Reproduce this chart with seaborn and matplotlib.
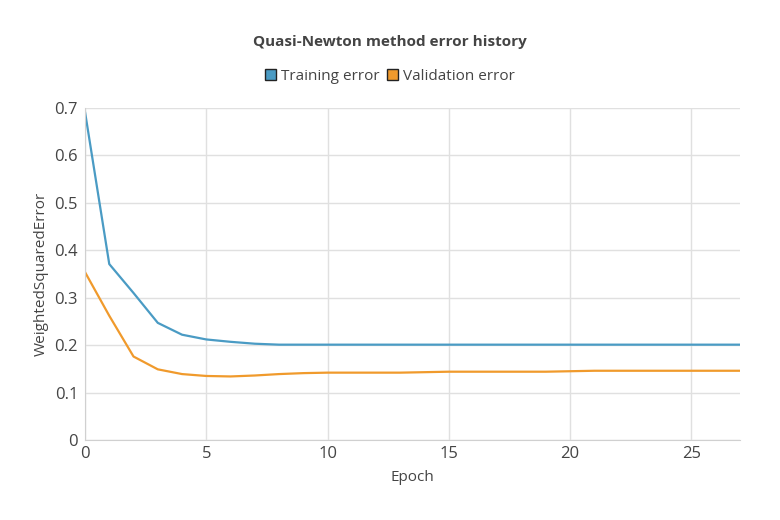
import matplotlib
matplotlib.use('Agg')
import matplotlib.pyplot as plt
import pandas as pd
import seaborn as sb
from matplotlib.patches import Patch

# error history, one value per epoch
epochs = list(range(28))
training_error = [0.692, 0.371, 0.310, 0.247, 0.222, 0.212, 0.207, 0.203, 0.201,
                  0.201, 0.201, 0.201, 0.201, 0.201, 0.201, 0.201, 0.201, 0.201,
                  0.201, 0.201, 0.201, 0.201, 0.201, 0.201, 0.201, 0.201, 0.201, 0.201]
validation_error = [0.354, 0.262, 0.176, 0.149, 0.139, 0.135, 0.134, 0.136, 0.139,
                    0.141, 0.142, 0.142, 0.142, 0.142, 0.143, 0.144, 0.144, 0.144,
                    0.144, 0.144, 0.145, 0.146, 0.146, 0.146, 0.146, 0.146, 0.146, 0.146]
series_names = ['Training error', 'Validation error']
series_colors = ['#4a9bc4', '#f09a2c']

data = pd.DataFrame({
    'Epoch': epochs * 2,
    'WeightedSquaredError': training_error + validation_error,
    'series': [series_names[0]] * len(epochs) + [series_names[1]] * len(epochs),
})

sb.set_style('white')
plt.rcParams['font.family'] = ['Open Sans', 'DejaVu Sans']
text_col = '#444444'
grid_col = '#e0e0e0'

fig = plt.figure(figsize=(7.8, 5.2), dpi=100)
ax = fig.add_subplot(1, 1, 1)
fig.subplots_adjust(left=85/780, right=740/780, top=1-108/520, bottom=1-440/520)

sb.lineplot(data=data, x='Epoch', y='WeightedSquaredError', hue='series',
            palette=dict(zip(series_names, series_colors)), linewidth=1.6,
            ax=ax, legend=False)

ax.set_xlim(0, 27)
ax.set_ylim(0, 0.7)
ax.set_xticks([0, 5, 10, 15, 20, 25])
ax.set_yticks([0, 0.1, 0.2, 0.3, 0.4, 0.5, 0.6, 0.7])
ax.set_yticklabels(['0', '0.1', '0.2', '0.3', '0.4', '0.5', '0.6', '0.7'])
ax.grid(True, color=grid_col, linewidth=1)
ax.set_axisbelow(True)
for s in ['top', 'right']:
    ax.spines[s].set_visible(False)
for s in ['left', 'bottom']:
    ax.spines[s].set_color('#d0d0d0')
ax.tick_params(axis='y', length=4, color='#d0d0d0', pad=1, labelsize=12, labelcolor=text_col)
ax.tick_params(axis='x', length=0, pad=4, labelsize=12, labelcolor=text_col)
ax.set_xlabel('Epoch', fontsize=11, color=text_col, labelpad=6)
ax.set_ylabel('WeightedSquaredError', fontsize=11, color=text_col, labelpad=4)

fig.suptitle('Quasi-Newton method error history', y=1-42/520, va='center',
             fontsize=11, fontweight='bold', color=text_col)
handles = [Patch(facecolor=c, edgecolor='#222222', linewidth=1) for c in series_colors]
fig.legend(handles, series_names, loc='center', bbox_to_anchor=(0.5, 1-76/520),
           ncol=2, frameon=False, fontsize=11, labelcolor=text_col,
           handlelength=0.7, handleheight=0.7, handletextpad=0.35, columnspacing=0.5)

plt.savefig('out.png', dpi=100)
